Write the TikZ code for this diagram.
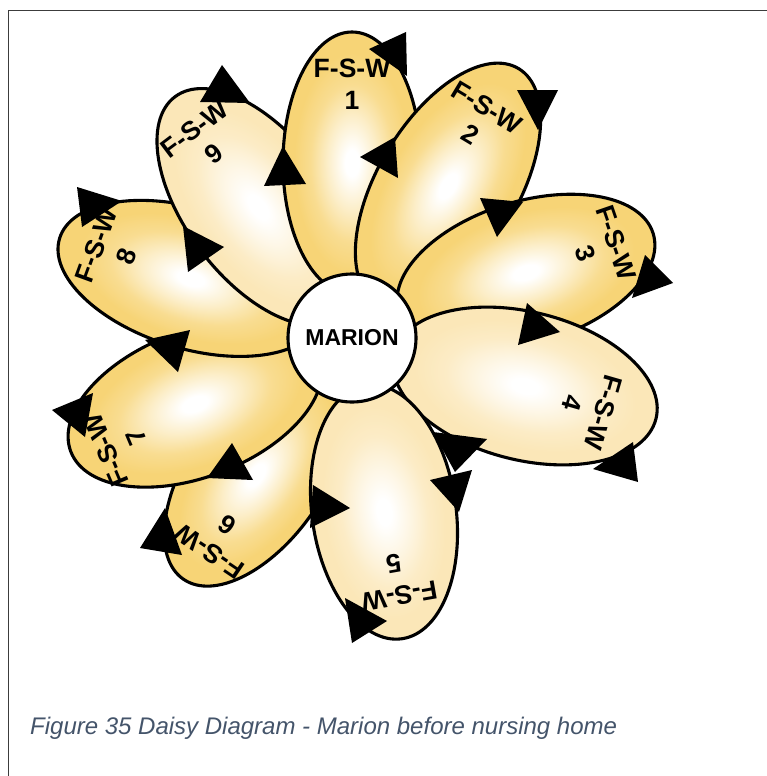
\documentclass[tikz,border=0pt]{standalone}
\usepackage{fontspec}
\setmainfont{Liberation Sans}

\definecolor{pgold}{RGB}{247,212,118}
\definecolor{pcream}{RGB}{251,231,184}
\definecolor{captionblue}{RGB}{68,84,106}
\definecolor{framegray}{RGB}{60,60,60}

% petal fills: white heart fading out to the petal colour
\pgfdeclareradialshading{petalgold}{\pgfpoint{0bp}{0bp}}{color(0bp)=(white); color(2.5bp)=(white); color(9bp)=(pgold!40!white); color(15bp)=(pgold!80!white); color(21bp)=(pgold); color(50bp)=(pgold)}
\pgfdeclareradialshading{petalcream}{\pgfpoint{0bp}{0bp}}{color(0bp)=(white); color(2.5bp)=(white); color(9bp)=(pcream!40!white); color(15bp)=(pcream!80!white); color(21bp)=(pcream); color(50bp)=(pcream)}

% one petal: centre x, centre y, axis angle, half length, half width, shading
\newcommand\daisypetal[6]{%
  \begin{scope}[transform canvas={shift={(#1,#2)}, rotate=#3}]
    \shadedraw[petaledge, shading=#6] (0,0) ellipse [x radius=#4pt, y radius=#5pt];
  \end{scope}}

\tikzset{
  petaledge/.style={draw=black, line width=3.1pt},
  petallabel/.style={font=\fontsize{26.5}{32}\selectfont\bfseries, align=center, inner sep=0pt},
  arrowtip/.style={fill=black},
  hub/.style={circle, draw=black, line width=3.1pt, fill=white, minimum size=128pt, inner sep=0pt,
              font=\fontsize{23}{26}\selectfont\bfseries},
}

\begin{document}
\begin{tikzpicture}[x=1pt, y=-1pt]
\useasboundingbox (0,0) rectangle (767,776);

% frame
\draw[framegray, line width=1.5pt] (8.5,776) -- (8.5,10.5) -- (767,10.5);

% petals, back to front
\daisypetal{256}{475}{-125}{127}{68}{petalgold}   % 6
\daisypetal{195}{404}{-159}{133}{73}{petalgold}   % 7
\daisypetal{190.6}{278.4}{163}{137}{70}{petalgold}% 8
\daisypetal{258}{207}{127}{138}{72}{petalcream}   % 9
\daisypetal{352}{163}{90}{131}{69}{petalgold}     % 1
\daisypetal{448}{186}{59}{137}{70}{petalgold}     % 2
\daisypetal{526}{272.5}{17}{133}{71}{petalgold}   % 3
\daisypetal{525}{386}{-14}{135}{74}{petalcream}   % 4
\daisypetal{384}{512}{-82}{128}{72}{petalcream}   % 5

% centre
\node[hub] (marion) at (352,338) {MARION};

% petal labels
\node[petallabel, rotate=0]    (lab1) at (352,84)    {F-S-W\\1};
\node[petallabel, rotate=-31]  (lab2) at (479,121)   {F-S-W\\2};
\node[petallabel, rotate=-71]  (lab3) at (601,248)   {F-S-W\\3};
\node[petallabel, rotate=-106] (lab4) at (588,408)   {F-S-W\\4};
\node[petallabel, rotate=-170] (lab5) at (396.5,580) {F-S-W\\5};
\node[petallabel, rotate=146]  (lab6) at (218.5,538.5) {F-S-W\\6};
\node[petallabel, rotate=113]  (lab7) at (121,444)   {F-S-W\\7};
\node[petallabel, rotate=70]   (lab8) at (111,250.5) {F-S-W\\8};
\node[petallabel, rotate=37]   (lab9) at (204,141.5) {F-S-W\\9};

% arrow heads along the petal outlines
\fill[arrowtip] (369,49) -- (406,32) -- (407,76) -- cycle;
\fill[arrowtip] (283,146) -- (264,186) -- (306,184) -- cycle;
\fill[arrowtip] (222,65) -- (200,102) -- (250,103) -- cycle;
\fill[arrowtip] (183,226) -- (188,272) -- (224,247) -- cycle;
\fill[arrowtip] (77,187) -- (122,201) -- (82,227) -- cycle;
\fill[arrowtip] (145,340) -- (190,330) -- (178,372) -- cycle;
\fill[arrowtip] (52,410) -- (93,393) -- (85,437) -- cycle;
\fill[arrowtip] (232,443) -- (253,480) -- (207,478) -- cycle;
\fill[arrowtip] (165,508) -- (182,555) -- (140,548) -- cycle;
\fill[arrowtip] (313,485) -- (350,508) -- (310,528) -- cycle;
\fill[arrowtip] (345,598) -- (387,621) -- (352,643) -- cycle;
\fill[arrowtip] (430,480) -- (472,470) -- (459,512) -- cycle;
\fill[arrowtip] (433,432) -- (487,439) -- (455,472) -- cycle;
\fill[arrowtip] (593,469) -- (633,442) -- (638,482) -- cycle;
\fill[arrowtip] (360,157) -- (395,137) -- (398,178) -- cycle;
\fill[arrowtip] (517,90) -- (558,90) -- (538,130) -- cycle;
\fill[arrowtip] (480,198) -- (523,202) -- (497,237) -- cycle;
\fill[arrowtip] (645,255) -- (673,283) -- (632,298) -- cycle;
\fill[arrowtip] (527,303) -- (560,332) -- (518,345) -- cycle;

% caption
\node[anchor=base west, inner sep=0pt, text=captionblue,
      font=\fontsize{24}{28}\selectfont\itshape] (caption) at (30,734)
      {Figure 35 Daisy Diagram - Marion before nursing home};
\end{tikzpicture}
\end{document}
